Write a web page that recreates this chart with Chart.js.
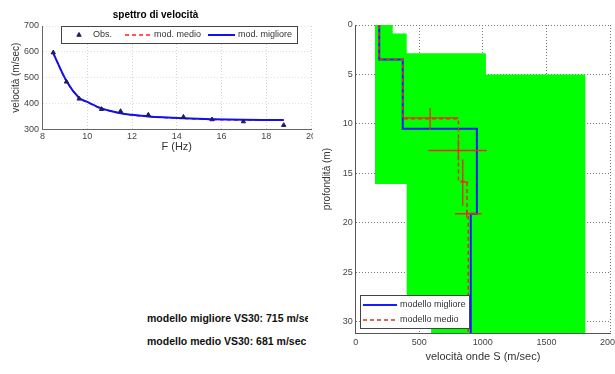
<!DOCTYPE html>
<html>
<head>
<meta charset="utf-8">
<script src="https://cdn.jsdelivr.net/npm/chart.js@4.4.1/dist/chart.umd.min.js"></script>
<style>
  html, body { margin: 0; padding: 0; background: #fff; width: 615px; height: 374px; overflow: hidden; position: relative; }
  #specWrap { position: absolute; left: 0; top: 0; width: 313px; height: 160px; overflow: hidden; }
  #specBox { position: relative; width: 330px; height: 160px; }
  #profBox { position: absolute; left: 320px; top: 0; width: 320px; height: 374px; }
  .vs { position: absolute; left: 147px; width: 161px; overflow: hidden; white-space: nowrap;
        font: bold 10.5px "Liberation Sans", Arial, sans-serif; color: #111; }
</style>
</head>
<body>
<div id="specWrap"><div id="specBox"><canvas id="specChart"></canvas></div></div>
<div id="profBox"><canvas id="profChart"></canvas></div>
<div class="vs" style="top:312px">modello migliore VS30: 715 m/sec</div>
<div class="vs" style="top:335px">modello medio VS30: 681 m/sec</div>
<script>
// --- spettro di velocita (dispersion curve) ---
const obsFreq = [8.48, 9.07, 9.64, 10.64, 11.49, 12.73, 14.30, 15.58, 16.98, 18.78];
const obsVel  = [597, 484, 418, 378, 370, 356, 348, 338, 330, 316];
const modFreq = [8.48, 9.07, 9.64, 10.0, 10.64, 11.49, 12.0, 12.73, 14.30, 15.58, 16.98, 18.78];
const bestVel = [595, 487, 421, 406, 381, 362, 356, 350, 343, 339, 337, 336];
const meanVel = [594, 486, 420, 405, 380, 362, 355, 349, 342, 338, 336, 335];
const freqTicks = [8, 10, 12, 14, 16, 18, 20];

// --- profilo Vs ---
const maxDepth = 31.2;
const bestTop = [0, 3.5, 10.5, 19.1];
const bestVs  = [185, 370, 953, 905];
const meanTop = [0, 3.5, 9.5, 15.8, 19.0];
const meanVs  = [183, 370, 808, 875, 885];
// search envelope (green polygon)
const envVel   = [152, 291, 291, 401, 401, 1024, 1024, 1806, 1806, 593, 593, 401, 401, 152];
const envDepth = [0, 0, 0.85, 0.85, 2.85, 2.85, 5, 5, 31.2, 31.2, 28, 28, 16.1, 16.1];
// error crosses of the mean model
const errVel   = [585, 808, 842, 873];
const errDepth = [9.4, 12.7, 15.9, 19.1];
const errVelLo = [375, 571, 822, 781];
const errVelHi = [808, 1031, 886, 991];
const errDepLo = [8.4, 11.6, 13.6, 18.7];
const errDepHi = [10.6, 13.7, 18.3, 19.5];

Chart.defaults.font.family = '"Liberation Sans", Arial, sans-serif';
Chart.defaults.color = '#333';
Chart.defaults.animation = false;

function pts(xs, ys) {
  return xs.map((x, i) => ({x: x, y: ys[i]}));
}

function steps(tops, vels, bottom) {
  const out = [];
  tops.forEach((t, i) => {
    const b = i + 1 < tops.length ? tops[i + 1] : bottom;
    out.push({x: vels[i], y: t}, {x: vels[i], y: b});
  });
  return out;
}

// legend drawn inside the axes, boxed like the matlab one
const boxLegend = {
  id: 'boxLegend',
  afterDraw(chart, args, opts) {
    if (!opts.box) return;
    const ctx = chart.ctx;
    const [bx, by, bw, bh] = opts.box;
    ctx.save();
    ctx.fillStyle = '#fff';
    ctx.fillRect(bx, by, bw, bh);
    ctx.strokeStyle = '#444';
    ctx.lineWidth = 1;
    ctx.strokeRect(bx + 0.5, by + 0.5, bw, bh);
    ctx.font = opts.fontSize + 'px "Liberation Sans", Arial, sans-serif';
    ctx.textBaseline = 'middle';
    opts.items.forEach(it => {
      const ds = chart.data.datasets[it.ds];
      if (it.marker) {
        ctx.fillStyle = ds.backgroundColor;
        ctx.strokeStyle = ds.borderColor;
        Chart.helpers.drawPoint(ctx, {pointStyle: ds.pointStyle, radius: 2.5, borderWidth: 1, rotation: 0},
          (it.x0 + it.x1) / 2, it.y);
      } else {
        ctx.beginPath();
        ctx.strokeStyle = ds.borderColor;
        ctx.lineWidth = ds.borderWidth;
        ctx.setLineDash(ds.borderDash || []);
        ctx.moveTo(it.x0, it.y);
        ctx.lineTo(it.x1, it.y);
        ctx.stroke();
        ctx.setLineDash([]);
      }
      ctx.fillStyle = '#333';
      ctx.fillText(ds.label, it.tx, it.y);
    });
    ctx.restore();
  }
};

// ---------------- left: dispersion curve ----------------
new Chart(document.getElementById('specChart'), {
  type: 'scatter',
  data: {
    datasets: [
      {
        label: 'Obs.',
        data: pts(obsFreq, obsVel),
        pointStyle: 'triangle',
        pointRadius: 2.5,
        backgroundColor: '#1c1c60',
        borderColor: '#1c1c60',
        order: 1
      },
      {
        label: 'mod. medio',
        data: pts(modFreq, meanVel),
        showLine: true,
        borderColor: '#ff2020',
        borderWidth: 1.5,
        borderDash: [4, 3],
        pointRadius: 0,
        tension: 0.3,
        order: 3
      },
      {
        label: 'mod. migliore',
        data: pts(modFreq, bestVel),
        showLine: true,
        borderColor: '#1010f0',
        borderWidth: 2,
        pointRadius: 0,
        tension: 0.3,
        order: 2
      }
    ]
  },
  options: {
    responsive: true,
    maintainAspectRatio: false,
    layout: { padding: { left: 0, right: 19, top: 0, bottom: 0 } },
    plugins: {
      legend: { display: false },
      tooltip: { enabled: false },
      title: {
        display: true,
        text: 'spettro di velocità',
        color: '#000',
        font: { size: 10, weight: 'bold' },
        padding: { top: 9.5, bottom: 4.5 }
      },
      boxLegend: {
        box: [61, 26, 236, 17],
        fontSize: 9,
        items: [
          { ds: 0, marker: true, x0: 72, x1: 86, tx: 93, y: 35 },
          { ds: 1, x0: 125, x1: 152, tx: 154, y: 35 },
          { ds: 2, x0: 208, x1: 235, tx: 238, y: 35 }
        ]
      }
    },
    scales: {
      x: {
        type: 'linear',
        min: 8,
        max: 20,
        afterFit: s => { s.height = 30.7; },
        afterBuildTicks: s => { s.ticks = freqTicks.map(v => ({value: v})); },
        ticks: { font: { size: 9 }, padding: 2, color: '#444', callback: v => String(v) },
        grid: { color: '#d4d4d4', drawTicks: false },
        border: { color: '#666', dash: [1, 2] },
        title: { display: true, text: 'F (Hz)', font: { size: 11 }, color: '#333', padding: { top: 0, bottom: 6 } }
      },
      y: {
        min: 300,
        max: 700,
        afterFit: s => { s.width = 42.5; },
        ticks: { stepSize: 100, font: { size: 9 }, padding: 3.5, color: '#444', callback: v => String(v) },
        grid: { color: '#e0e0e0', drawTicks: false },
        border: { color: '#666', dash: [1, 2] },
        title: { display: true, text: 'velocità (m/sec)', font: { size: 10 }, color: '#333', padding: { top: 10, bottom: 0 } }
      }
    }
  },
  plugins: [boxLegend]
});

// ---------------- right: Vs profile ----------------
const profSets = [
  {
    label: 'modello migliore',
    data: steps(bestTop, bestVs, maxDepth),
    showLine: true,
    borderColor: '#1a1aff',
    borderWidth: 2,
    pointRadius: 0,
    order: 3
  },
  {
    label: 'modello medio',
    data: steps(meanTop, meanVs, maxDepth),
    showLine: true,
    borderColor: '#f02a1a',
    borderWidth: 1.5,
    borderDash: [4, 3],
    pointRadius: 0,
    order: 2
  },
  {
    label: 'range',
    data: pts(envVel, envDepth),
    showLine: true,
    fill: 'shape',
    backgroundColor: '#00ff00',
    borderColor: '#00ff00',
    borderWidth: 0,
    pointRadius: 0,
    order: 10
  }
];
errVel.forEach((v, i) => {
  const seg = { label: 'err', showLine: true, borderColor: '#f02a1a', borderWidth: 1.3, pointRadius: 0, order: 1 };
  profSets.push(Object.assign({}, seg, { data: [{x: errVelLo[i], y: errDepth[i]}, {x: errVelHi[i], y: errDepth[i]}] }));
  profSets.push(Object.assign({}, seg, { data: [{x: v, y: errDepLo[i]}, {x: v, y: errDepHi[i]}] }));
});

new Chart(document.getElementById('profChart'), {
  type: 'scatter',
  data: { datasets: profSets },
  options: {
    responsive: true,
    maintainAspectRatio: false,
    layout: { padding: { left: 0, right: 30, top: 25, bottom: 0 } },
    plugins: {
      legend: { display: false },
      tooltip: { enabled: false },
      boxLegend: {
        box: [40, 295, 109, 33],
        fontSize: 9,
        items: [
          { ds: 0, x0: 43, x1: 77, tx: 80, y: 305 },
          { ds: 1, x0: 43, x1: 77, tx: 80, y: 320 }
        ]
      }
    },
    scales: {
      x: {
        type: 'linear',
        min: 0,
        max: 2000,
        afterFit: s => { s.height = 40.7; },
        ticks: { stepSize: 500, font: { size: 9 }, padding: 4, color: '#444', callback: v => String(v) },
        grid: { color: '#777', drawTicks: false },
        border: { color: '#555', dash: [1, 2] },
        title: { display: true, text: 'velocità onde S (m/sec)', font: { size: 11 }, color: '#333', padding: { top: 0, bottom: 10 } }
      },
      y: {
        reverse: true,
        min: 0,
        max: maxDepth,
        afterFit: s => { s.width = 35.7; },
        ticks: { stepSize: 5, includeBounds: false, font: { size: 9 }, padding: 3, color: '#444', callback: v => String(v) },
        grid: { color: '#777', drawTicks: false },
        border: { color: '#555', dash: [1, 2] },
        title: { display: true, text: 'profondità (m)', font: { size: 10 }, color: '#333', padding: { top: 1, bottom: 0 } }
      }
    }
  },
  plugins: [boxLegend]
});
</script>
</body>
</html>
